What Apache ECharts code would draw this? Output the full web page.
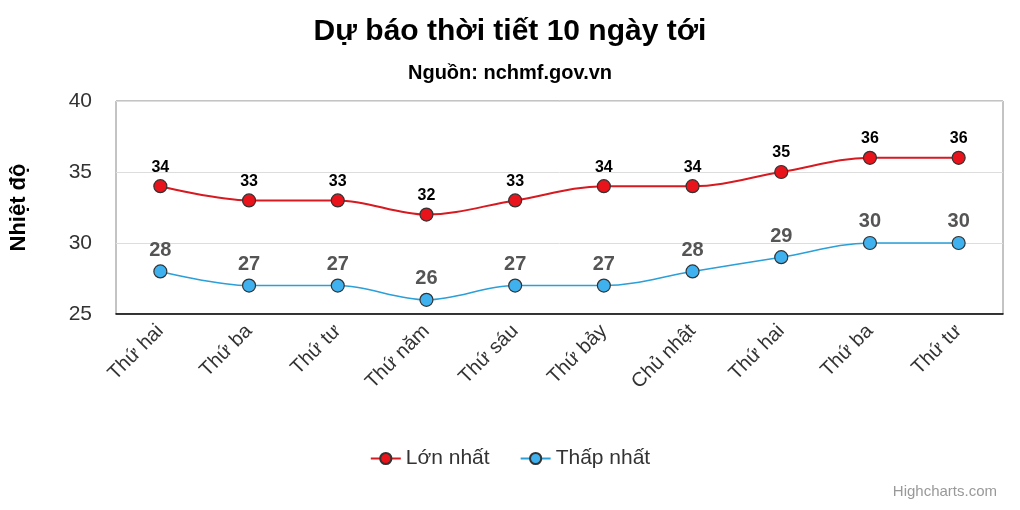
<!DOCTYPE html>
<html><head><meta charset="utf-8">
<script src="https://cdn.jsdelivr.net/npm/echarts@6/dist/echarts.min.js"></script>
<style>html,body{margin:0;padding:0;background:#fff}#c{width:1020px;height:510px}</style>
</head><body><div id="c"></div>
<script>
const days = ['Thứ hai','Thứ ba','Thứ tư','Thứ năm','Thứ sáu','Thứ bảy','Chủ nhật','Thứ hai','Thứ ba','Thứ tư'];
const maxTemp = [34,33,33,32,33,34,34,35,36,36];
const minTemp = [28,27,27,26,27,27,28,29,30,30];

const chart = echarts.init(document.getElementById('c'));
const font = 'Arial, "Liberation Sans", sans-serif';
chart.setOption({
  animation: false,
  textStyle: { fontFamily: font },
  title: [
    { text: 'Dự báo thời tiết 10 ngày tới', left: 'center', top: 12,
      textStyle: { fontSize: 30, fontWeight: 'bold', color: '#000', fontFamily: font } },
    { text: 'Nguồn: nchmf.gov.vn', left: 'center', top: 58,
      textStyle: { fontSize: 20, fontWeight: 'bold', color: '#000', fontFamily: font } },
    { text: 'Highcharts.com', right: 18, bottom: 6,
      textStyle: { fontSize: 15, fontWeight: 'normal', color: '#999', fontFamily: font } }
  ],
  legend: {
    bottom: 36, left: 'center', itemGap: 30, itemWidth: 30, itemHeight: 14,
    textStyle: { fontSize: 21, color: '#333', fontFamily: font },
    data: ['Lớn nhất', 'Thấp nhất']
  },
  grid: { left: 104, right: 17, top: 101, bottom: 196, show: true, borderColor: '#888', borderWidth: 1 },
  xAxis: {
    type: 'category', data: days, boundaryGap: true,
    axisLine: { lineStyle: { color: '#000', width: 1.5 } },
    axisTick: { show: false },
    axisLabel: { rotate: 45, fontSize: 20, color: '#333', margin: 14, fontFamily: font }
  },
  yAxis: {
    type: 'value', min: 25, max: 40, interval: 5,
    name: 'Nhiệt độ', nameLocation: 'middle', nameGap: 86, nameRotate: 90,
    nameTextStyle: { fontSize: 22, fontWeight: 'bold', color: '#000', fontFamily: font },
    axisLine: { show: false }, axisTick: { show: false },
    axisLabel: { fontSize: 21, color: '#333', margin: 24, fontFamily: font },
    splitLine: { lineStyle: { color: '#ddd' } }
  },
  series: [
    { name: 'Lớn nhất', type: 'line', data: maxTemp, smooth: 0.35,
      symbol: 'circle', symbolSize: 13,
      lineStyle: { color: '#d71920', width: 2 },
      itemStyle: { color: '#e8131b', borderColor: '#333', borderWidth: 1.2 },
      label: { show: true, position: 'top', distance: 4, fontSize: 16, fontWeight: 'bold', color: '#000' } },
    { name: 'Thấp nhất', type: 'line', data: minTemp, smooth: 0.35,
      symbol: 'circle', symbolSize: 13,
      lineStyle: { color: '#2a9fd8', width: 1.5 },
      itemStyle: { color: '#3eb1ee', borderColor: '#333', borderWidth: 1.2 },
      label: { show: true, position: 'top', distance: 4, fontSize: 20, fontWeight: 'bold', color: '#555' } }
  ]
});
</script></body></html>
